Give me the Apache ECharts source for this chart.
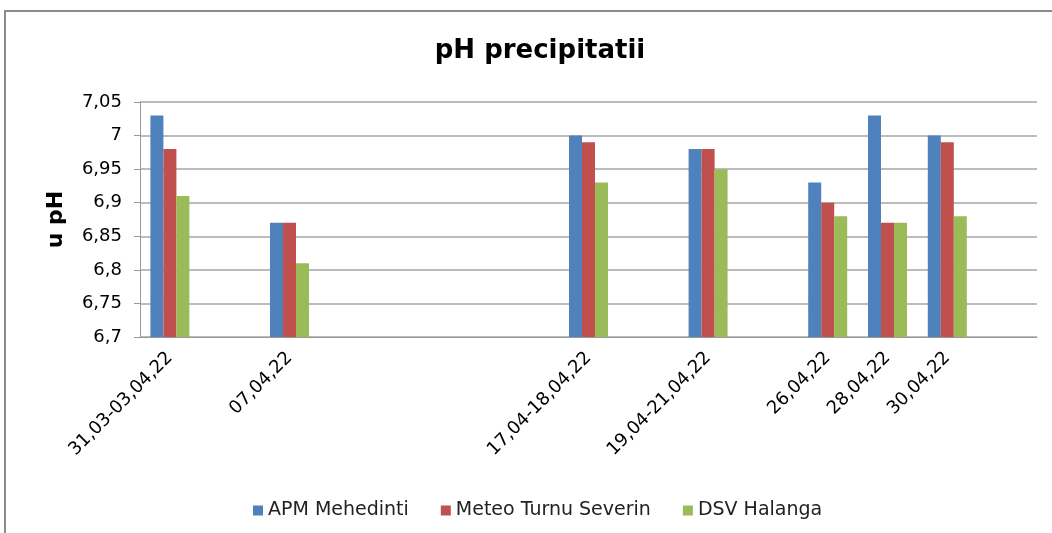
<!DOCTYPE html>
<html>
<head>
<meta charset="utf-8">
<script src="https://cdn.jsdelivr.net/npm/echarts@6/dist/echarts.min.js"></script>
<style>
  html, body { margin: 0; padding: 0; background: #fff; }
  #chart { width: 1052px; height: 533px; }
</style>
</head>
<body>
<div id="chart"></div>
<script>
// ===================================================
//  DATE
// ===================================================
const dateLabels = ['31,03-03,04,22', '07,04,22', '17,04-18,04,22', '19,04-21,04,22', '26,04,22', '28,04,22', '30,04,22'];
// pozitia pe axa de timp (zile)
const dayPos = [4, 8, 18, 22, 26, 28, 30];

const apmMehedinti = [7.03, 6.87, 7.00, 6.98, 6.93, 7.03, 7.00];
const meteoTurnuSeverin = [6.98, 6.87, 6.99, 6.98, 6.90, 6.87, 6.99];
const dsvHalanga = [6.91, 6.81, 6.93, 6.95, 6.88, 6.87, 6.88];

const yTicks = [6.7, 6.75, 6.8, 6.85, 6.9, 6.95, 7, 7.05];

// ===================================================
//  GRAFIC
// ===================================================
(function () {
    const el = document.getElementById('chart');
    const chart = echarts.init(el);
    const font = 'DejaVu Sans';

    const pairs = vals => vals.map((v, i) => [dayPos[i], v]);
    const fmtNum = v => String(Number(v.toFixed(2))).replace('.', ',');

    const makeSeries = (name, vals, color) => ({
        name: name,
        type: 'bar',
        data: pairs(vals),
        barWidth: 13,
        barGap: '0%',
        itemStyle: { color: color }
    });

    const option = {
        animation: false,
        backgroundColor: '#fff',
        textStyle: { fontFamily: font },
        graphic: [{
            type: 'rect',
            shape: { x: 5, y: 11, width: 2000, height: 1000 },
            style: { fill: 'none', stroke: '#8c8c8c', lineWidth: 2 },
            silent: true
        }],
        title: {
            text: 'pH precipitatii',
            left: 535,
            top: 33,
            textAlign: 'center',
            textStyle: { fontFamily: font, fontSize: 26, fontWeight: 'bold', color: '#000' }
        },
        legend: {
            left: 248,
            top: 496,
            itemWidth: 10,
            itemHeight: 10,
            itemGap: 32,
            icon: 'rect',
            textStyle: { fontFamily: font, fontSize: 19, color: '#222' },
            data: ['APM Mehedinti', 'Meteo Turnu Severin', 'DSV Halanga']
        },
        grid: { left: 140, right: 15, top: 102, bottom: 196 },
        xAxis: {
            type: 'value',
            min: 3,
            max: 33,
            interval: 1,
            axisLine: { show: true, lineStyle: { color: '#999' } },
            axisTick: { show: false },
            splitLine: { show: false },
            axisLabel: {
                rotate: 45,
                margin: 18,
                fontFamily: font,
                fontSize: 18,
                color: '#000',
                showMinLabel: true,
                showMaxLabel: true,
                formatter: v => {
                    const i = dayPos.indexOf(Math.round(v));
                    return i >= 0 && Math.abs(v - dayPos[i]) < 1e-6 ? dateLabels[i] : '';
                }
            }
        },
        yAxis: {
            type: 'value',
            min: yTicks[0],
            max: yTicks[yTicks.length - 1],
            interval: 0.05,
            name: 'u pH',
            nameLocation: 'middle',
            nameGap: 73,
            nameTextStyle: { fontFamily: font, fontSize: 22, fontWeight: 'bold', color: '#000' },
            axisLine: { show: true, lineStyle: { color: '#999' } },
            axisTick: { show: true, length: 6, lineStyle: { color: '#999' } },
            splitLine: { show: true, lineStyle: { color: '#a6a6a6', width: 1.5 } },
            axisLabel: {
                margin: 18,
                fontFamily: font,
                fontSize: 18,
                color: '#000',
                formatter: v => fmtNum(v)
            }
        },
        series: [
            makeSeries('APM Mehedinti', apmMehedinti, '#4f81bd'),
            makeSeries('Meteo Turnu Severin', meteoTurnuSeverin, '#c0504d'),
            makeSeries('DSV Halanga', dsvHalanga, '#9bbb59')
        ]
    };

    chart.setOption(option);
})();
</script>
</body>
</html>
